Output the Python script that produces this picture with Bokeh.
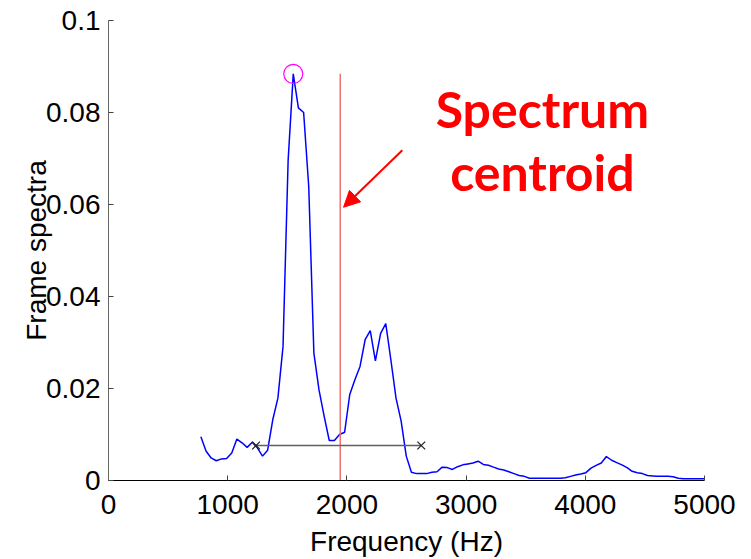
from bokeh.plotting import figure
from bokeh.models import Range1d, FixedTicker, Label, Arrow, NormalHead
from bokeh.embed import file_html
from bokeh.resources import INLINE

# ---- data ----
freq_hz = [775, 818, 861, 904, 948, 991, 1034, 1077, 1120, 1163, 1206, 1249, 1292, 1335,
           1378, 1421, 1464, 1507, 1550, 1593, 1637, 1680, 1723, 1766, 1809, 1852, 1895,
           1938, 1981, 2024, 2067, 2110, 2153, 2196, 2239, 2283, 2326, 2369, 2412, 2455,
           2498, 2541, 2584, 2627, 2670, 2713, 2756, 2799, 2842, 2885, 2929, 2972, 3015,
           3058, 3101, 3144, 3187, 3230, 3273, 3316, 3359, 3402, 3445, 3488, 3531, 3575,
           3618, 3661, 3704, 3747, 3790, 3833, 3876, 3919, 3962, 4005, 4048, 4091, 4134,
           4177, 4221, 4264, 4307, 4350, 4393, 4436, 4479, 4522, 4565, 4608, 4651, 4694,
           4737, 4780, 4823, 4867, 4910, 4953, 4996]
spectrum = [0.0095, 0.0064, 0.0049, 0.0043, 0.0047, 0.0048, 0.0060, 0.0090, 0.0082, 0.0072,
            0.0083, 0.0071, 0.0053, 0.0066, 0.0132, 0.0179, 0.0291, 0.0696, 0.0884, 0.0810,
            0.0800, 0.0638, 0.0277, 0.0197, 0.0140, 0.0087, 0.0087, 0.0100, 0.0105, 0.0187,
            0.0219, 0.0248, 0.0306, 0.0326, 0.0260, 0.0320, 0.0341, 0.0262, 0.0179, 0.0129,
            0.0053, 0.0018, 0.0015, 0.0015, 0.0015, 0.0018, 0.0019, 0.0029, 0.0028, 0.0024,
            0.0030, 0.0034, 0.0036, 0.0038, 0.0042, 0.0035, 0.0033, 0.0029, 0.0025, 0.0023,
            0.0019, 0.0015, 0.0011, 0.0009, 0.0005, 0.0005, 0.0005, 0.0005, 0.0005, 0.0005,
            0.0005, 0.0006, 0.0009, 0.0012, 0.0014, 0.0017, 0.0027, 0.0033, 0.0038, 0.0052,
            0.0044, 0.0039, 0.0034, 0.0028, 0.0020, 0.0017, 0.0015, 0.0011, 0.0010, 0.0009,
            0.0009, 0.0009, 0.0008, 0.0005, 0.0004, 0.0004, 0.0004, 0.0004, 0.0004]
centroid_hz = 1944
bandwidth_hz = [1238, 2624]
bandwidth_level = 0.0076
x_ticks = [0, 1000, 2000, 3000, 4000, 5000]
y_ticks = [0, 0.02, 0.04, 0.06, 0.08, 0.1]
y_tick_labels = ["0", "0.02", "0.04", "0.06", "0.08", "0.1"]

peak_i = max(range(len(spectrum)), key=lambda i: spectrum[i])
peak_f, peak_a = freq_hz[peak_i], spectrum[peak_i]

p = figure(width=751, height=559, output_backend="svg", toolbar_location=None,
           x_range=Range1d(0, 5000), y_range=Range1d(0, 0.1),
           min_border_left=108, min_border_right=47, min_border_top=20,
           min_border_bottom=78)
p.outline_line_color = None
p.grid.visible = False
p.background_fill_color = "white"
p.border_fill_color = "white"

# spectrum
p.line(freq_hz, spectrum, line_color="#0000ff", line_width=1.5)
# centroid line
p.segment(x0=[centroid_hz], y0=[0], x1=[centroid_hz], y1=[peak_a],
          line_color="#f07070", line_width=1.5)
# bandwidth line
p.line(bandwidth_hz, [bandwidth_level, bandwidth_level], line_color="#606060", line_width=1.5)
p.scatter(bandwidth_hz, [bandwidth_level, bandwidth_level], marker="x", size=11,
          line_color="#202020", line_width=1.2)
# peak circle
p.scatter([peak_f], [peak_a], marker="circle", size=19, fill_color=None,
          line_color="#ff00ff", line_width=1.2)

# arrow and text
p.add_layout(Arrow(end=NormalHead(size=16, fill_color="red", line_color="red"),
                   x_start=2465, y_start=0.0718, x_end=1972, y_end=0.0594,
                   line_color="red", line_width=2))
for txt, yy in [("Spectrum", 0.0807), ("centroid", 0.0670)]:
    p.add_layout(Label(x=3640, y=yy, text=txt, text_align="center",
                       text_baseline="alphabetic", text_color="#ff0000",
                       text_font="Lato", text_font_style="bold",
                       text_font_size="50px"))

for ax in (p.xaxis[0], p.yaxis[0]):
    ax.major_label_text_font = "Liberation Sans"
    ax.major_label_text_font_size = "28px"
    ax.major_label_text_color = "black"
    ax.major_tick_in = 5
    ax.major_tick_out = 0
    ax.minor_tick_line_color = None
    ax.major_tick_line_color = "#444444"
    ax.axis_label_text_font = "Liberation Sans"
    ax.axis_label_text_font_size = "28px"
    ax.axis_label_text_font_style = "normal"
    ax.axis_label_text_color = "black"

p.xaxis.ticker = FixedTicker(ticks=x_ticks)
p.xaxis.major_label_standoff = 14
p.xaxis.axis_label = "Frequency (Hz)"
p.xaxis.axis_label_standoff = 9
p.xaxis.axis_line_color = "black"

p.yaxis.ticker = FixedTicker(ticks=y_ticks)
p.yaxis.major_label_overrides = {t: s for t, s in zip(y_ticks, y_tick_labels)}
p.yaxis.major_label_standoff = 8
p.yaxis.axis_label = "Frame spectra"
p.yaxis.axis_label_standoff = -9
p.yaxis.axis_line_color = "#666666"

open("out.html", "w").write(file_html(p, INLINE))
